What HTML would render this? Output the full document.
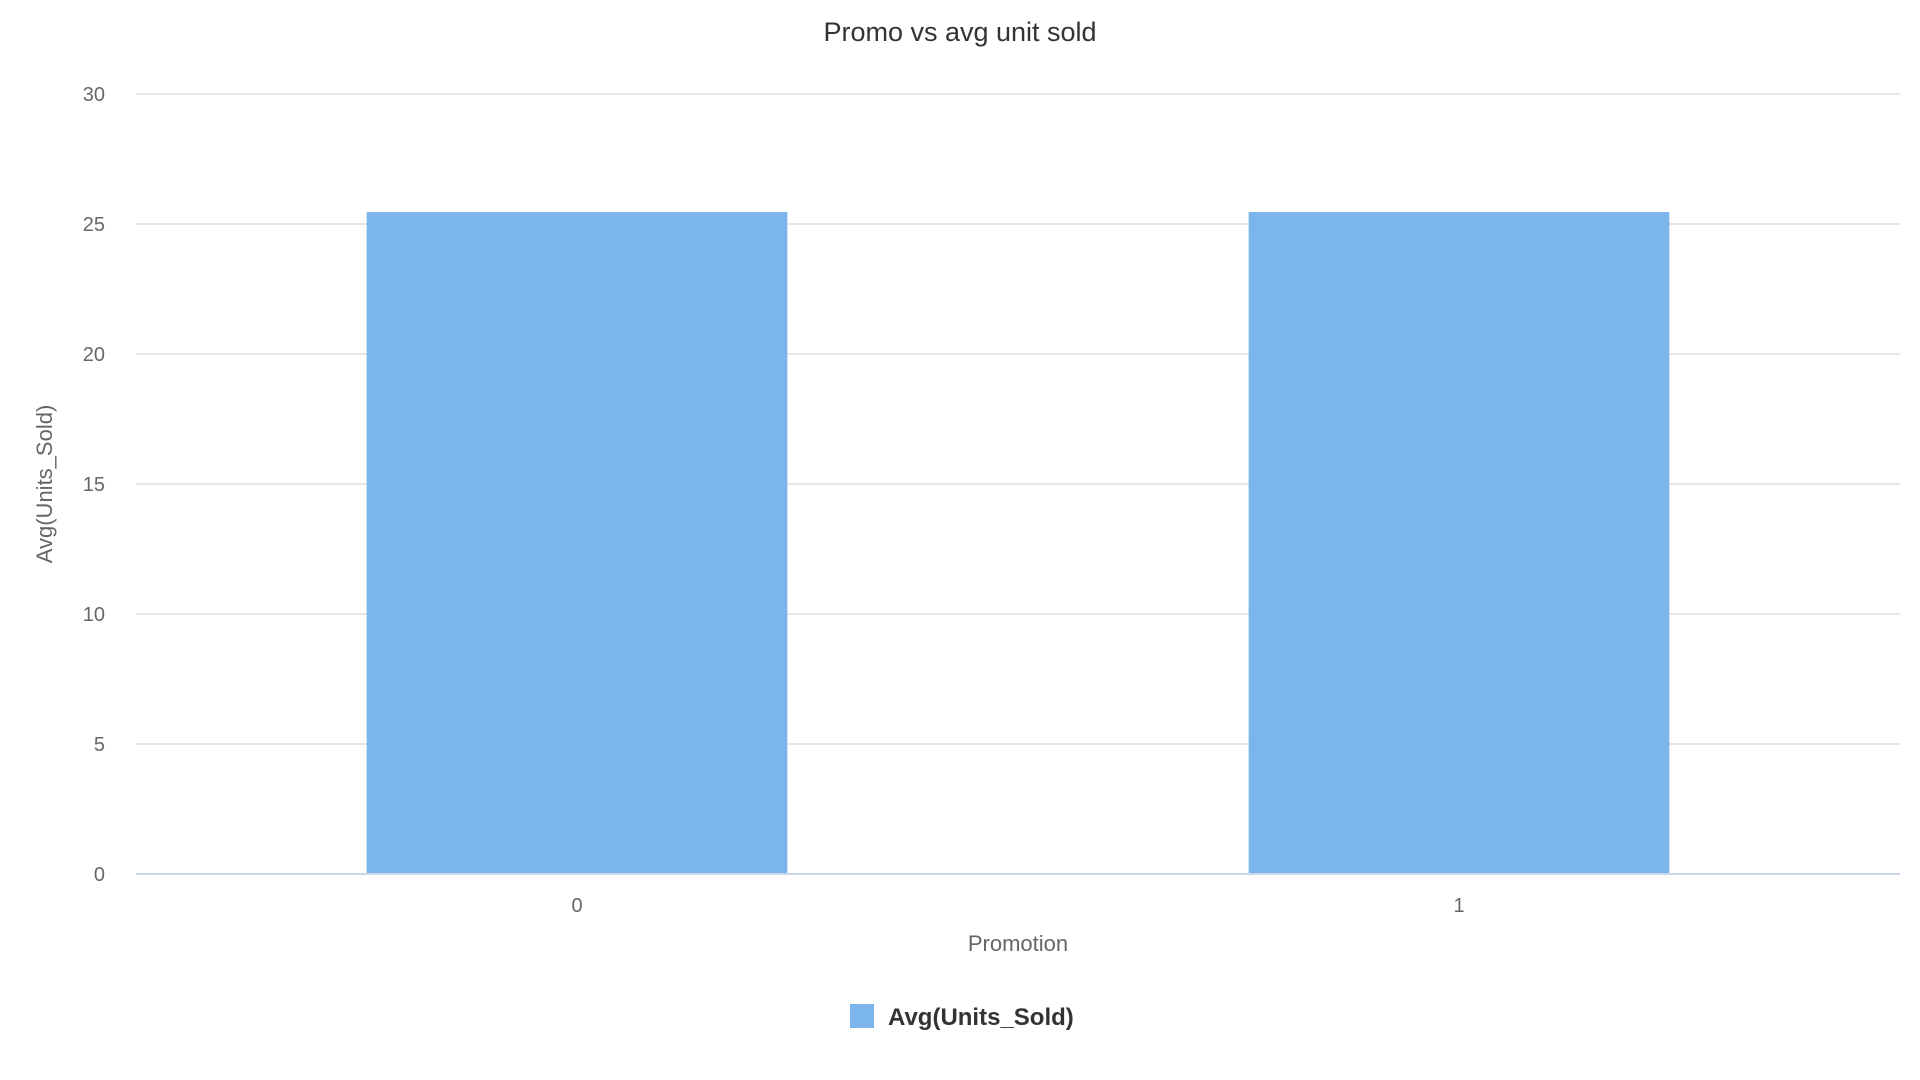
<!DOCTYPE html>
<html><head><meta charset="utf-8"><style>
html,body{margin:0;padding:0;background:#fff;width:1920px;height:1080px;overflow:hidden}
svg{display:block;font-family:"Liberation Sans",sans-serif}
</style></head><body>
<svg id="chart" width="1920" height="1080">
<text x="960" y="41" text-anchor="middle" font-size="27" fill="#333">Promo vs avg unit sold</text>
<g id="grid"></g>
<g id="bars"></g>
<g id="xlabels"></g>
<text x="1018" y="951" text-anchor="middle" font-size="22" fill="#666">Promotion</text>
<text transform="translate(52,484) rotate(-90)" text-anchor="middle" font-size="22" fill="#666">Avg(Units_Sold)</text>
<g>
<rect x="850" y="1004" width="24" height="24" fill="#7cb5ec"></rect>
<text x="888" y="1025" font-size="24" font-weight="bold" fill="#333">Avg(Units_Sold)</text>
</g>
</svg>
<script>
const categories = ["0", "1"];
const values = [25.46, 25.46];
const yTicks = [0, 5, 10, 15, 20, 25, 30];
const NS = "http://www.w3.org/2000/svg";
const plotL = 136, plotR = 1900, plotT = 94, plotB = 874, yMax = 30;
function y(v){ return plotB - (v / yMax) * (plotB - plotT); }
const band = (plotR - plotL) / categories.length;
function xc(i){ return plotL + band * (i + 0.5); }
const barW = band * 0.477;
const grid = document.getElementById('grid');
yTicks.forEach(t => {
  const l = document.createElementNS(NS, 'line');
  l.setAttribute('x1', plotL); l.setAttribute('x2', plotR);
  l.setAttribute('y1', y(t)); l.setAttribute('y2', y(t));
  l.setAttribute('stroke', t === 0 ? '#ccd6eb' : '#e6e6e6');
  l.setAttribute('stroke-width', 2);
  
  
  grid.appendChild(l);
  const tx = document.createElementNS(NS, 'text');
  tx.setAttribute('x', 105); tx.setAttribute('y', y(t) + 7);
  tx.setAttribute('text-anchor', 'end'); tx.setAttribute('font-size', '20'); tx.setAttribute('fill', '#666');
  tx.textContent = t;
  
  
  grid.appendChild(tx);
});
const bars = document.getElementById('bars');
const xl = document.getElementById('xlabels');
categories.forEach((c, i) => {
  const r = document.createElementNS(NS, 'rect');
  r.setAttribute('x', xc(i) - barW / 2); r.setAttribute('width', barW);
  r.setAttribute('y', y(values[i])); r.setAttribute('height', y(0) - y(values[i]) - 1);
  r.setAttribute('fill', '#7cb5ec');
  
  
  bars.appendChild(r);
  const tx = document.createElementNS(NS, 'text');
  tx.setAttribute('x', xc(i)); tx.setAttribute('y', 912);
  tx.setAttribute('text-anchor', 'middle'); tx.setAttribute('font-size', '20'); tx.setAttribute('fill', '#666');
  tx.textContent = c;
  
  
  xl.appendChild(tx);
});
</script>
</body></html>
